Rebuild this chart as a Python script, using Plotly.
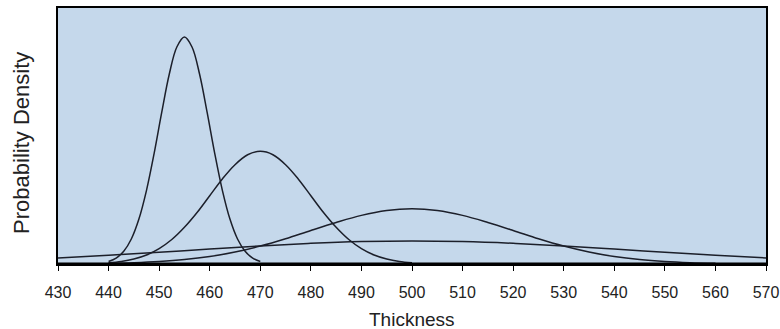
import plotly.graph_objects as go

# Curve 1 (narrow, centred ~455)
x1 = [440, 441.5, 443, 444.5, 446, 447.5, 449, 450.5, 452, 453.5, 455,
      456.5, 458, 459.5, 461, 462.5, 464, 465.5, 467, 468.5, 470]
y1 = [0.00089, 0.00209, 0.00448, 0.0088, 0.0158, 0.0259, 0.0388, 0.0532, 0.0667, 0.0763, 0.0798,
      0.0763, 0.0667, 0.0532, 0.0388, 0.0259, 0.0158, 0.0088, 0.00448, 0.00209, 0.00089]

# Curve 2 (centred ~470)
x2 = [440, 442.5, 445, 447.5, 450, 452.5, 455, 457.5, 460, 462.5, 465, 467.5, 470,
      472.5, 475, 477.5, 480, 482.5, 485, 487.5, 490, 492.5, 495, 497.5, 500]
y2 = [0.00044, 0.0009, 0.00174, 0.00315, 0.0054, 0.0086, 0.0129, 0.0181, 0.0240, 0.0299, 0.0349, 0.0384, 0.0396,
      0.0384, 0.0349, 0.0299, 0.0240, 0.0181, 0.0129, 0.0086, 0.0054, 0.00315, 0.00174, 0.0009, 0.00044]

# Curve 3 (centred ~500)
x3 = [440, 445, 450, 455, 460, 465, 470, 475, 480, 485, 490, 495, 500,
      505, 510, 515, 520, 525, 530, 535, 540, 545, 550, 555, 560]
y3 = [0.00022, 0.00044, 0.00085, 0.00154, 0.00262, 0.0042, 0.0063, 0.00888, 0.0118, 0.0146, 0.0171, 0.0188, 0.0194,
      0.0188, 0.0171, 0.0146, 0.0118, 0.00888, 0.0063, 0.0042, 0.00262, 0.00154, 0.00085, 0.00044, 0.00022]

# Curve 4 (very wide, centred ~500)
x4 = [430, 440, 450, 460, 470, 480, 490, 500, 510, 520, 530, 540, 550, 560, 570]
y4 = [0.00215, 0.00306, 0.00412, 0.00526, 0.00635, 0.00727, 0.00788, 0.0081,
      0.00788, 0.00727, 0.00635, 0.00526, 0.00412, 0.00306, 0.00215]

tick_vals = list(range(430, 571, 10))
tick_text = [str(v) for v in tick_vals]
x_title = "Thickness"
y_title = "Probability Density"

line_color = "#1c1f2a"
fig = go.Figure()
for xs, ys in [(x1, y1), (x2, y2), (x3, y3), (x4, y4)]:
    fig.add_trace(go.Scatter(x=xs, y=ys, mode="lines",
                             line=dict(color=line_color, width=1.5, shape="spline", smoothing=1.0),
                             showlegend=False, hoverinfo="skip"))

sans = "Liberation Sans, Arial"
fig.update_layout(
    width=780, height=329,
    margin=dict(l=58, r=14, t=8, b=65, autoexpand=False),
    plot_bgcolor="#c5d8eb",
    paper_bgcolor="white",
    font=dict(family=sans, color="#222222"),
)
fig.update_xaxes(
    range=[430, 570], tickvals=tick_vals, ticktext=tick_text,
    showgrid=False, zeroline=False, automargin=False,
    showline=True, linecolor="black", linewidth=2, mirror=True,
    ticks="outside", ticklen=5, tickwidth=1, tickcolor="black",
    tickfont=dict(size=16, family=sans, color="#222222"),
    ticklabelstandoff=8,
)
fig.update_yaxes(
    range=[0, 0.090], automargin=False,
    showgrid=False, zeroline=False, showticklabels=False, ticks="",
    showline=True, linecolor="black", linewidth=2, mirror=True,
)
fig.add_shape(type="line", xref="paper", yref="paper", x0=0, x1=1, y0=0, y1=0,
              line=dict(color="black", width=3))
fig.add_annotation(text=x_title, xref="paper", yref="paper", x=0.5, y=-0.215,
                   xanchor="center", yanchor="middle", showarrow=False,
                   font=dict(size=19, family=sans, color="#222222"))
fig.add_annotation(text=y_title, xref="paper", yref="paper", x=-0.0508, y=0.473,
                   xanchor="center", yanchor="middle", textangle=-90, showarrow=False,
                   font=dict(size=22, family=sans, color="#222222"))

fig.write_html("out.html", config={"displayModeBar": False},
               post_script="document.body.style.margin='0';document.body.style.padding='0';")
